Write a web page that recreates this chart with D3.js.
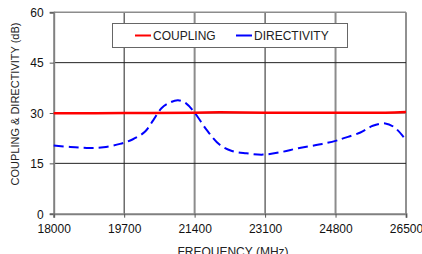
<!DOCTYPE html>
<html>
<head>
<meta charset="utf-8">
<script src="https://cdn.jsdelivr.net/npm/d3@7"></script>
<style>
  body { margin: 0; background: #fff; }
  svg { display: block; font-family: "Liberation Sans", Arial, sans-serif; }
</style>
</head>
<body>
<script>
// frequency ticks (MHz) and level ticks (dB)
const freqTicks = [18000, 19700, 21400, 23100, 24800, 26500];
const dbTicks = [0, 15, 30, 45, 60];

// coupling curve
const couplingFreq = [18000, 19700, 21400, 22000, 23100, 24800, 26000, 26500];
const couplingDb   = [29.9, 30.0, 30.1, 30.2, 30.1, 30.1, 30.1, 30.3];

// directivity curve
const directFreq = [18000, 18400, 18800, 19200, 19600, 19900, 20200, 20400, 20600, 20800, 21000, 21200, 21400, 21700, 22000, 22300, 22650, 23050, 23500, 23900, 24400, 24800, 25000, 25400, 25700, 26000, 26200, 26400, 26500];
const directDb   = [20.3, 19.9, 19.6, 19.8, 20.8, 22.1, 24.4, 27.8, 31.4, 33.1, 33.8, 32.8, 30.1, 24.8, 20.6, 18.7, 18.0, 17.6, 18.4, 19.5, 20.6, 21.7, 22.5, 24.2, 26.2, 26.9, 25.9, 23.5, 21.7];

const W = 422, H = 254;
const plotL = 53.7, plotR = 406, plotT = 12.3, plotB = 213.7;

const svg = d3.select("body").append("svg")
    .attr("width", W)
    .attr("height", H);

const x = d3.scaleLinear().domain([18000, 26500]).range([plotL, plotR]);
const y = d3.scaleLinear().domain([0, 60]).range([plotB, plotT]);

// grid - alternating dark thin / grey thick like the original
freqTicks.slice(1).forEach((f, i) => {
  svg.append("line")
    .attr("x1", x(f)).attr("x2", x(f))
    .attr("y1", plotT).attr("y2", plotB)
    .attr("stroke", i % 2 == 0 ? "#222" : "#8c8c8c")
    .attr("stroke-width", i % 2 == 0 ? 1 : 2);
});
dbTicks.slice(1).forEach((d, i) => {
  svg.append("line")
    .attr("x1", plotL).attr("x2", plotR)
    .attr("y1", y(d)).attr("y2", y(d))
    .attr("stroke", i % 2 == 0 ? "#222" : "#8c8c8c")
    .attr("stroke-width", i % 2 == 0 ? 1 : 1.6);
});

// axes
const yAxis = svg.append("g")
    .attr("transform", `translate(${plotL},0)`)
    .call(d3.axisLeft(y).tickValues(dbTicks).tickSize(4).tickPadding(6));
const xAxis = svg.append("g")
    .attr("transform", `translate(0,${plotB})`)
    .call(d3.axisBottom(x).tickValues(freqTicks).tickSize(4).tickPadding(7).tickFormat(d3.format("d")));

[yAxis, xAxis].forEach(g => {
  g.select(".domain").attr("stroke", "#808080").attr("stroke-width", 2);
  g.selectAll(".tick line").attr("stroke", "#555");
  g.selectAll("text").attr("fill", "#111").style("font-size", "12px")
    .style("font-family", "Liberation Sans, Arial, sans-serif");
});
yAxis.selectAll("text").attr("dy", "0.36em");
xAxis.selectAll("text").attr("dy", "0.71em");

// curves
const line = d3.line()
    .x(d => x(d[0]))
    .y(d => y(d[1]))
    .curve(d3.curveCatmullRom.alpha(0.5));

svg.append("path")
    .datum(directFreq.map((f, i) => [f, directDb[i]]))
    .attr("d", line)
    .attr("fill", "none")
    .attr("stroke", "#0000ff")
    .attr("stroke-width", 2)
    .attr("stroke-dasharray", "10,5");

svg.append("path")
    .datum(couplingFreq.map((f, i) => [f, couplingDb[i]]))
    .attr("d", line)
    .attr("fill", "none")
    .attr("stroke", "#ff0000")
    .attr("stroke-width", 2.5);

// legend
const leg = svg.append("g");
leg.append("rect")
    .attr("x", 112.5).attr("y", 23.5)
    .attr("width", 235).attr("height", 24)
    .attr("fill", "#fff")
    .attr("stroke", "#666");
[["COUPLING", "#ff0000", 135], ["DIRECTIVITY", "#0000ff", 236]].forEach(([name, col, lx]) => {
  leg.append("line")
    .attr("x1", lx).attr("x2", lx + 16)
    .attr("y1", 35.5).attr("y2", 35.5)
    .attr("stroke", col).attr("stroke-width", 2);
  leg.append("text")
    .attr("x", lx + 18).attr("y", 40)
    .attr("font-size", 12)
    .attr("fill", "#222")
    .text(name);
});

// axis titles
svg.append("text")
    .attr("transform", `translate(19,104) rotate(-90)`)
    .attr("text-anchor", "middle")
    .attr("font-size", 11)
    .attr("fill", "#222")
    .text("COUPLING & DIRECTIVITY (dB)");

svg.append("text")
    .attr("x", 233)
    .attr("y", 256)
    .attr("text-anchor", "middle")
    .attr("font-size", 12)
    .attr("fill", "#222")
    .text("FREQUENCY (MHz)");
</script>
</body>
</html>
